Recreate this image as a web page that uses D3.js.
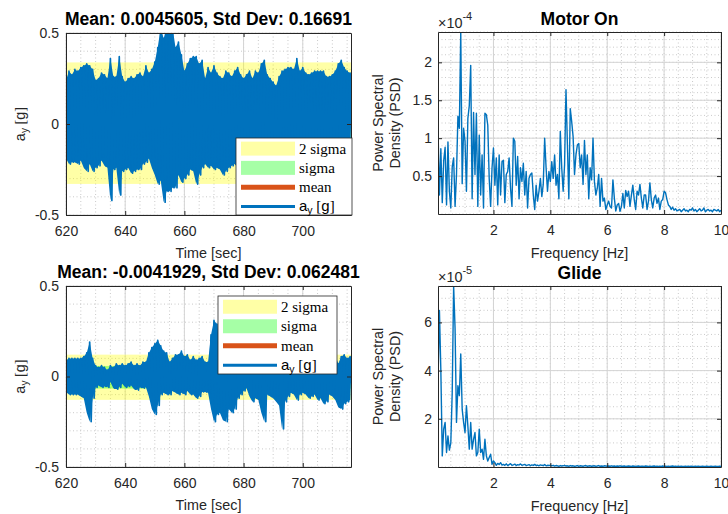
<!DOCTYPE html>
<html>
<head>
<meta charset="utf-8">
<script src="https://cdn.jsdelivr.net/npm/d3@7"></script>
<style>
body { margin: 0; background: #fff; }
svg { display: block; font-family: "Liberation Sans", Arial, sans-serif; }
.axis text { font-size: 14px; font-family: "Liberation Sans", Arial, sans-serif; fill: #262626; }
.axis path, .axis line { stroke: #262626; stroke-width: 1; }
.grid-major line { stroke: #d4d4d4; stroke-width: 1; }
.grid-minor line { stroke: #bdbdbd; stroke-width: 0.8; stroke-dasharray: 1,2.5; }
.title { font-size: 17.5px; font-weight: bold; fill: #000; }
.label { font-size: 14.4px; fill: #262626; }
.legend text { font-size: 15px; font-family: "Liberation Serif", "Times New Roman", serif; fill: #000; }
</style>
</head>
<body>
<script>
// acceleration envelope, one sample per second starting at tStart [g]
var tStart = 620, tEnd = 716.3;
var motorOnHigh = [
	0.24,0.29,0.27,0.30,0.29,0.31,0.32,0.33,0.32,0.30,
	0.24,0.25,0.28,0.27,0.25,0.36,0.26,0.26,0.37,0.26,
	0.23,0.25,0.26,0.25,0.27,0.28,0.26,0.32,0.28,0.30,
	0.34,0.42,0.53,0.47,0.53,0.53,0.53,0.42,0.45,0.38,
	0.29,0.33,0.36,0.37,0.37,0.33,0.35,0.25,0.31,0.28,
	0.32,0.28,0.26,0.25,0.29,0.28,0.26,0.29,0.31,0.27,
	0.25,0.27,0.29,0.25,0.29,0.28,0.33,0.35,0.27,0.25,
	0.23,0.21,0.26,0.29,0.30,0.31,0.31,0.30,0.36,0.29,
	0.31,0.28,0.27,0.28,0.29,0.29,0.29,0.29,0.26,0.26,
	0.27,0.29,0.33,0.35,0.31,0.29,0.28];
var motorOnLow = [
	-0.19,-0.22,-0.21,-0.21,-0.22,-0.20,-0.24,-0.26,-0.22,-0.26,
	-0.24,-0.23,-0.20,-0.23,-0.24,-0.42,-0.25,-0.24,-0.39,-0.26,
	-0.25,-0.24,-0.27,-0.26,-0.25,-0.25,-0.22,-0.21,-0.19,-0.24,
	-0.28,-0.33,-0.31,-0.43,-0.37,-0.37,-0.35,-0.35,-0.28,-0.32,
	-0.30,-0.28,-0.25,-0.26,-0.33,-0.28,-0.24,-0.22,-0.24,-0.23,
	-0.25,-0.24,-0.25,-0.28,-0.26,-0.24,-0.23,-0.22,-0.24,-0.21,
	-0.23,-0.25,-0.22,-0.24,-0.26,-0.23,-0.21,-0.24,-0.25,-0.22,
	-0.24,-0.27,-0.23,-0.22,-0.25,-0.24,-0.21,-0.23,-0.26,-0.24,
	-0.22,-0.25,-0.23,-0.24,-0.27,-0.22,-0.24,-0.25,-0.23,-0.21,
	-0.24,-0.26,-0.23,-0.22,-0.25,-0.24,-0.23];
var glideHigh = [
	0.09,0.10,0.10,0.10,0.10,0.10,0.11,0.13,0.19,0.10,
	0.06,0.05,0.06,0.05,0.035,0.06,0.05,0.07,0.06,0.07,
	0.06,0.07,0.08,0.06,0.07,0.06,0.08,0.08,0.13,0.16,
	0.18,0.20,0.17,0.14,0.13,0.08,0.10,0.12,0.12,0.14,
	0.11,0.12,0.09,0.11,0.09,0.10,0.11,0.08,0.08,0.23,
	0.31,0.29,0.14,0.12,0.15,0.11,0.13,0.12,0.10,0.12,
	0.11,0.09,0.12,0.13,0.10,0.12,0.11,0.14,0.12,0.10,
	0.11,0.13,0.12,0.09,0.11,0.12,0.10,0.13,0.12,0.11,
	0.12,0.10,0.11,0.13,0.12,0.10,0.11,0.12,0.13,0.11,
	0.10,0.12,0.07,0.11,0.12,0.10,0.11];
var glideLow = [
	-0.085,-0.10,-0.10,-0.10,-0.10,-0.11,-0.12,-0.20,-0.25,-0.12,
	-0.06,-0.05,-0.06,-0.055,-0.06,-0.03,-0.065,-0.07,-0.06,-0.04,
	-0.06,-0.055,-0.05,-0.07,-0.075,-0.06,-0.065,-0.06,-0.11,-0.18,
	-0.21,-0.16,-0.10,-0.09,-0.10,-0.10,-0.08,-0.09,-0.10,-0.09,
	-0.10,-0.08,-0.10,-0.10,-0.12,-0.11,-0.085,-0.085,-0.09,-0.18,
	-0.25,-0.21,-0.20,-0.24,-0.25,-0.18,-0.20,-0.18,-0.12,-0.10,
	-0.08,-0.065,-0.11,-0.14,-0.12,-0.13,-0.20,-0.25,-0.10,-0.11,
	-0.12,-0.14,-0.16,-0.29,-0.14,-0.11,-0.09,-0.10,-0.13,-0.10,
	-0.09,-0.10,-0.12,-0.11,-0.10,-0.13,-0.12,-0.15,-0.14,-0.10,
	-0.11,-0.13,-0.17,-0.18,-0.15,-0.14,-0.13];
var means = [0.0045605, -0.0041929];
var stdDevs = [0.16691, 0.062481];

// power spectral density, frequencies from freqStart in steps of freqStep [Hz]
var freqStart = 0.05, freqStep = 0.05, freqEnd = 10;
var psdMotorOn = [ // x 1e-4
	1.12,0.25,0.86,0.15,0.70,0.88,0.12,0.95,0.30,0.08,
	0.62,0.74,0.10,0.52,1.29,1.13,2.40,0.40,1.13,0.96,
	0.30,1.26,1.43,1.96,0.20,1.34,0.52,1.33,0.10,1.04,
	0.25,0.78,0.08,1.33,1.31,1.17,0.47,0.10,0.61,0.87,
	0.38,0.74,0.12,0.78,0.25,0.69,0.71,0.15,0.52,0.56,
	0.74,0.34,0.10,1.00,0.96,0.38,0.76,0.20,0.61,0.43,
	0.67,0.25,0.56,0.08,0.47,0.52,0.54,0.25,0.06,0.38,
	0.17,0.30,0.47,0.23,0.39,1.00,0.61,0.30,0.56,0.43,
	0.69,0.47,0.78,0.38,0.52,0.20,1.09,0.61,0.30,0.65,
	1.64,0.91,0.20,1.39,1.22,1.02,0.52,0.78,0.91,0.93,
	0.61,0.78,0.39,0.97,0.52,0.78,0.20,0.61,0.45,1.00,
	0.43,0.25,0.34,0.52,0.10,0.47,0.17,0.21,0.06,0.12,
	0.17,0.10,0.08,0.45,0.21,0.04,0.12,0.14,0.035,0.10,
	0.27,0.08,0.31,0.23,0.30,0.10,0.25,0.38,0.19,0.06,
	0.30,0.25,0.39,0.21,0.08,0.25,0.25,0.06,0.17,0.41,
	0.19,0.08,0.21,0.25,0.14,0.21,0.06,0.17,0.19,0.30,
	0.28,0.19,0.12,0.10,0.06,0.09,0.05,0.07,0.04,0.05,
	0.06,0.03,0.05,0.07,0.04,0.05,0.03,0.06,0.05,0.08,
	0.04,0.06,0.03,0.05,0.07,0.04,0.05,0.08,0.03,0.05,
	0.06,0.04,0.05,0.03,0.06,0.05,0.04,0.06,0.03,0.05];
var psdGlide = [ // x 1e-5
	3.5,6.5,4.0,0.46,1.57,1.85,0.6,1.29,0.7,1.0,
	3.1,7.51,5.74,1.85,3.37,2.96,4.69,2.4,1.85,1.43,
	2.54,1.7,0.74,1.85,0.74,1.15,1.43,0.46,0.6,1.57,
	0.6,0.74,0.32,1.15,0.46,0.25,0.39,0.53,0.11,0.25,
	0.18,0.07,0.15,0.10,0.18,0.08,0.11,0.07,0.13,0.06,
	0.10,0.14,0.07,0.09,0.12,0.06,0.10,0.08,0.13,0.07,
	0.09,0.11,0.06,0.08,0.10,0.05,0.09,0.07,0.11,0.06,
	0.08,0.05,0.09,0.07,0.06,0.10,0.05,0.07,0.06,0.08,
	0.05,0.07,0.04,0.06,0.05,0.03,0.06,0.04,0.05,0.07,
	0.04,0.05,0.03,0.06,0.04,0.05,0.03,0.04,0.06,0.03,
	0.05,0.04,0.03,0.05,0.06,0.03,0.04,0.05,0.03,0.04,
	0.05,0.03,0.04,0.06,0.03,0.04,0.03,0.05,0.04,0.03,
	0.04,0.03,0.05,0.03,0.04,0.02,0.04,0.03,0.05,0.03,
	0.03,0.04,0.02,0.03,0.04,0.03,0.02,0.04,0.03,0.02,
	0.03,0.04,0.02,0.03,0.03,0.02,0.04,0.03,0.02,0.03,
	0.02,0.03,0.04,0.02,0.03,0.02,0.03,0.02,0.04,0.02,
	0.03,0.02,0.03,0.02,0.03,0.04,0.02,0.03,0.02,0.03,
	0.02,0.03,0.02,0.02,0.03,0.02,0.03,0.02,0.03,0.02,
	0.02,0.03,0.02,0.03,0.02,0.02,0.03,0.02,0.02,0.03,
	0.02,0.02,0.03,0.02,0.02,0.03,0.02,0.02,0.03,0.02];

var timeTicks = [620, 640, 660, 680, 700];
var accelTicks = [-0.5, 0, 0.5];
var freqTicks = [2, 4, 6, 8, 10];
var psdMotorOnTicks = [0.5, 1, 1.5, 2];
var psdGlideTicks = [2, 4, 6];
var legendNames = ["2 sigma", "sigma", "mean"];

var blue = "#0072BD", orange = "#D95319";

var svg = d3.select("body").append("svg")
	.attr("width", 728)
	.attr("height", 514);

var clipCount = 0;

function makeClip(box) {
	var id = "clip" + (clipCount++);
	svg.append("clipPath").attr("id", id).append("rect")
		.attr("x", box.left).attr("y", box.top)
		.attr("width", box.right - box.left).attr("height", box.bottom - box.top);
	return "url(#" + id + ")";
}

function steps(domain, step) {
	var a = Math.ceil(domain[0] / step - 1e-6), b = Math.floor(domain[1] / step + 1e-6);
	return d3.range(a, b + 1).map(function(k) { return k * step; });
}

function drawGrid(g, x, y, box, xTicks, yTicks, xStep, yStep) {
	var minor = g.append("g").attr("class", "grid-minor");
	minor.selectAll("line.v").data(steps(x.domain(), xStep))
	  .enter().append("line").attr("class", "v")
		.attr("x1", function(d) { return x(d); }).attr("x2", function(d) { return x(d); })
		.attr("y1", box.top).attr("y2", box.bottom);
	minor.selectAll("line.h").data(steps(y.domain(), yStep))
	  .enter().append("line").attr("class", "h")
		.attr("y1", function(d) { return y(d); }).attr("y2", function(d) { return y(d); })
		.attr("x1", box.left).attr("x2", box.right);

	var major = g.append("g").attr("class", "grid-major");
	major.selectAll("line.v").data(xTicks)
	  .enter().append("line").attr("class", "v")
		.attr("x1", function(d) { return x(d); }).attr("x2", function(d) { return x(d); })
		.attr("y1", box.top).attr("y2", box.bottom);
	major.selectAll("line.h").data(yTicks)
	  .enter().append("line").attr("class", "h")
		.attr("y1", function(d) { return y(d); }).attr("y2", function(d) { return y(d); })
		.attr("x1", box.left).attr("x2", box.right);
}

function drawAxes(g, x, y, box, xTicks, yTicks, yPad) {
	var fmt = function(d) { return String(d); };
	g.append("g").attr("class", "axis")
		.attr("transform", "translate(0," + box.bottom + ")")
		.call(d3.axisBottom(x).tickValues(xTicks).tickSize(-4).tickSizeOuter(0).tickPadding(11).tickFormat(fmt));
	g.append("g").attr("class", "axis")
		.attr("transform", "translate(0," + box.top + ")")
		.call(d3.axisTop(x).tickValues(xTicks).tickSize(-4).tickSizeOuter(0).tickFormat(""));
	g.append("g").attr("class", "axis")
		.attr("transform", "translate(" + box.left + ",0)")
		.call(d3.axisLeft(y).tickValues(yTicks).tickSize(-4).tickSizeOuter(0).tickPadding(yPad).tickFormat(fmt));
	g.append("g").attr("class", "axis")
		.attr("transform", "translate(" + box.right + ",0)")
		.call(d3.axisRight(y).tickValues(yTicks).tickSize(-4).tickSizeOuter(0).tickFormat(""));
}

// "a_y [g]" with a sans a/g, subscript y and serif brackets
function ayText(sel, size) {
	sel.append("tspan").text("a");
	sel.append("tspan").attr("font-size", size * 0.7).attr("dy", size * 0.2).text("y");
	sel.append("tspan").attr("dy", -size * 0.2).attr("font-family", "'Liberation Serif', serif").text(" [");
	sel.append("tspan").attr("font-family", "'Liberation Sans', Arial, sans-serif").text("g");
	sel.append("tspan").attr("font-family", "'Liberation Serif', serif").text("]");
}

function drawLegend(g, lb) {
	var lg = g.append("g").attr("class", "legend");
	lg.append("rect")
		.attr("x", lb.left).attr("y", lb.top).attr("width", lb.width).attr("height", lb.height)
		.attr("fill", "#fff").attr("stroke", "#262626").attr("stroke-width", 0.8);
	var rowH = lb.height / 4;
	var sx0 = lb.left + 5, sx1 = lb.left + 59, tx = lb.left + 63;
	var cy = function(i) { return lb.top + rowH * (i + 0.5) + 1; };

	lg.append("rect").attr("x", sx0).attr("y", cy(0) - 7).attr("width", sx1 - sx0).attr("height", 14)
		.attr("fill", "#ffff00").attr("fill-opacity", 0.35);
	lg.append("rect").attr("x", sx0).attr("y", cy(1) - 7).attr("width", sx1 - sx0).attr("height", 14)
		.attr("fill", "#00ff00").attr("fill-opacity", 0.35);
	lg.append("line").attr("x1", sx0).attr("x2", sx1).attr("y1", cy(2)).attr("y2", cy(2))
		.attr("stroke", orange).attr("stroke-width", 5);
	lg.append("line").attr("x1", sx0).attr("x2", sx1).attr("y1", cy(3)).attr("y2", cy(3))
		.attr("stroke", blue).attr("stroke-width", 3);

	legendNames.forEach(function(name, i) {
		lg.append("text").attr("x", tx).attr("y", cy(i)).attr("dy", "0.33em").text(name);
	});
	var t = lg.append("text").attr("x", tx).attr("y", cy(3)).attr("dy", "0.33em")
		.style("font-family", "'Liberation Sans', Arial, sans-serif");
	ayText(t, 15);
}

function drawTimePanel(box, high, low, mean, sd, title, legendBox) {
	var times = high.map(function(d, i) { return tStart + i; });
	var x = d3.scaleLinear().domain([tStart, tEnd]).range([box.left, box.right]),
		y = d3.scaleLinear().domain([-0.5, 0.5]).range([box.bottom, box.top]);

	var g = svg.append("g");
	drawGrid(g, x, y, box, timeTicks, accelTicks, 5, 0.1);

	var plot = g.append("g").attr("clip-path", makeClip(box));

	// 2 sigma and sigma bands around the mean
	plot.append("rect")
		.attr("x", x(tStart)).attr("width", x(tEnd) - x(tStart))
		.attr("y", y(mean + 2 * sd)).attr("height", y(mean - 2 * sd) - y(mean + 2 * sd))
		.attr("fill", "#ffff00").attr("fill-opacity", 0.35);
	plot.append("rect")
		.attr("x", x(tStart)).attr("width", x(tEnd) - x(tStart))
		.attr("y", y(mean + sd)).attr("height", y(mean - sd) - y(mean + sd))
		.attr("fill", "#00ff00").attr("fill-opacity", 0.35);
	plot.append("line")
		.attr("x1", x(tStart)).attr("x2", x(tEnd)).attr("y1", y(mean)).attr("y2", y(mean))
		.attr("stroke", orange).attr("stroke-width", 2.5);

	// dense signal: solid body between the envelopes, plus a swing
	// from high to low each second for the ragged edges
	var body = d3.area()
		.x(function(d, i) { return x(times[i]); })
		.y0(function(d, i) { return y(low[i]); })
		.y1(function(d) { return y(d); });
	plot.append("path")
		.attr("d", body(high))
		.attr("fill", blue);

	var pts = [];
	times.forEach(function(t, i) {
		pts.push([t, high[i]]);
		pts.push([t + 0.5, low[i]]);
	});
	var line = d3.line()
		.x(function(d) { return x(d[0]); })
		.y(function(d) { return y(d[1]); });
	plot.append("path")
		.attr("d", line(pts))
		.attr("fill", "none").attr("stroke", blue).attr("stroke-width", 1.7)
		.attr("stroke-linejoin", "round");

	drawAxes(g, x, y, box, timeTicks, accelTicks, 7);

	g.append("text").attr("class", "title")
		.attr("x", (box.left + box.right) / 2).attr("y", box.top - 8)
		.attr("text-anchor", "middle").text(title);
	g.append("text").attr("class", "label")
		.attr("x", (box.left + box.right) / 2).attr("y", box.bottom + 43)
		.attr("text-anchor", "middle").text("Time [sec]");
	var yl = g.append("text").attr("class", "label")
		.attr("text-anchor", "middle")
		.attr("transform", "translate(25," + (box.top + box.bottom) / 2 + ") rotate(-90)");
	ayText(yl, 14.4);

	drawLegend(g, legendBox);
}

function drawPsdPanel(box, psd, yTicks, yStep, exponent, title) {
	var freqs = psd.map(function(d, i) { return freqStart + i * freqStep; });
	var x = d3.scaleLinear().domain([freqStart, freqEnd]).range([box.left, box.right]),
		y = d3.scaleLinear().domain([0, d3.max(psd)]).range([box.bottom, box.top]);

	var g = svg.append("g");
	drawGrid(g, x, y, box, freqTicks, yTicks, 0.5, yStep);

	var line = d3.line()
		.x(function(d, i) { return x(freqs[i]); })
		.y(function(d) { return y(d); });
	g.append("g").attr("clip-path", makeClip(box))
	  .append("path")
		.attr("d", line(psd))
		.attr("fill", "none").attr("stroke", blue).attr("stroke-width", 1.4)
		.attr("stroke-linejoin", "round");

	drawAxes(g, x, y, box, freqTicks, yTicks, 6);

	g.append("text").attr("class", "title")
		.attr("x", (box.left + box.right) / 2).attr("y", box.top - 7)
		.attr("text-anchor", "middle").text(title);
	var ex = g.append("text").attr("class", "label")
		.attr("x", box.left).attr("y", box.top - 4);
	ex.append("tspan").text("\u00d710");
	ex.append("tspan").attr("dy", -8).attr("font-size", 11).text(exponent);
	g.append("text").attr("class", "label")
		.attr("x", (box.left + box.right) / 2).attr("y", box.bottom + 43.5)
		.attr("text-anchor", "middle").text("Frequency [Hz]");
	var mid = (box.top + box.bottom) / 2;
	g.append("text").attr("class", "label").attr("text-anchor", "middle")
		.attr("transform", "translate(383," + mid + ") rotate(-90)").text("Power Spectral");
	g.append("text").attr("class", "label").attr("text-anchor", "middle")
		.attr("transform", "translate(400," + mid + ") rotate(-90)").text("Density (PSD)");
}

drawTimePanel({left: 66, right: 351, top: 33, bottom: 215},
	motorOnHigh, motorOnLow, means[0], stdDevs[0],
	"Mean: 0.0045605, Std Dev: 0.16691",
	{left: 236, top: 138, width: 116, height: 77});
drawTimePanel({left: 66, right: 351, top: 286, bottom: 467},
	glideHigh, glideLow, means[1], stdDevs[1],
	"Mean: -0.0041929, Std Dev: 0.062481",
	{left: 218, top: 296, width: 119, height: 78});
drawPsdPanel({left: 438, right: 721, top: 32, bottom: 214},
	psdMotorOn, psdMotorOnTicks, 0.1, "-4", "Motor On");
drawPsdPanel({left: 438, right: 721, top: 286, bottom: 467},
	psdGlide, psdGlideTicks, 0.5, "-5", "Glide");
</script>
</body>
</html>
